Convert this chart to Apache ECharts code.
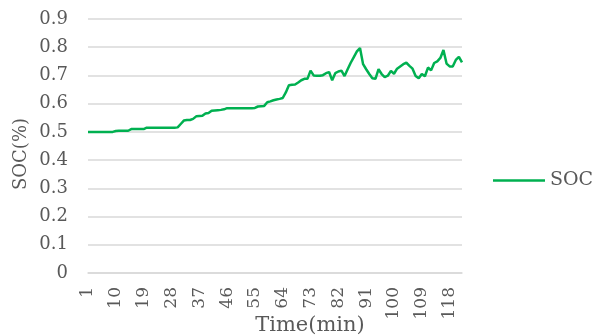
<!DOCTYPE html>
<html>
<head>
<meta charset="utf-8">
<script src="https://cdn.jsdelivr.net/npm/echarts@6/dist/echarts.min.js"></script>
<style>
  html, body { margin: 0; padding: 0; background: #fff; }
  #chart { width: 592px; height: 335px; }
</style>
</head>
<body>
<div id="chart"></div>
<script>
// Time axis: minutes 1..122
const minutes = [];
for (let m = 1; m <= 122; m++) minutes.push(String(m));

// State of charge per minute
const soc = [
  0.500, 0.500, 0.500, 0.500, 0.500, 0.500, 0.500, 0.500, 0.500, 0.503,
  0.504, 0.504, 0.504, 0.504, 0.510, 0.510, 0.510, 0.510, 0.510, 0.515,
  0.515, 0.515, 0.515, 0.515, 0.515, 0.515, 0.515, 0.515, 0.515, 0.516,
  0.528, 0.540, 0.542, 0.542, 0.546, 0.555, 0.556, 0.557, 0.565, 0.567,
  0.575, 0.576, 0.577, 0.578, 0.580, 0.584, 0.584, 0.584, 0.584, 0.584,
  0.584, 0.584, 0.584, 0.584, 0.585, 0.590, 0.591, 0.592, 0.605, 0.608,
  0.612, 0.615, 0.617, 0.620, 0.640, 0.665, 0.667, 0.668, 0.675, 0.683,
  0.688, 0.688, 0.717, 0.700, 0.699, 0.699, 0.701, 0.708, 0.712, 0.683,
  0.708, 0.714, 0.717, 0.698, 0.722, 0.745, 0.765, 0.785, 0.797, 0.740,
  0.722, 0.705, 0.690, 0.688, 0.722, 0.705, 0.694, 0.699, 0.716, 0.706,
  0.724, 0.732, 0.740, 0.745, 0.734, 0.724, 0.698, 0.690, 0.705, 0.697,
  0.728, 0.718, 0.744, 0.750, 0.762, 0.790, 0.742, 0.732, 0.732, 0.755,
  0.766, 0.746
];

const yTicks = [0, 0.1, 0.2, 0.3, 0.4, 0.5, 0.6, 0.7, 0.8, 0.9];

const FONT = '"DejaVu Serif", serif';
const TEXT = '#595959';
const GRID = '#d9d9d9';

const chart = echarts.init(document.getElementById('chart'));
chart.setOption({
  animation: false,
  grid: { left: 88, right: 130, top: 19, bottom: 62 },
  legend: {
    data: ['SOC'],
    left: 488,
    top: 166,
    icon: 'rect',
    itemWidth: 52,
    itemHeight: 2.5,
    itemGap: 6,
    textStyle: { fontFamily: FONT, fontSize: 19, color: TEXT }
  },
  graphic: [
    {
      type: 'text',
      x: 310,
      y: 326,
      style: {
        text: 'Time(min)',
        font: '21px "DejaVu Serif", serif',
        fill: TEXT,
        align: 'center',
        verticalAlign: 'middle'
      }
    },
    {
      type: 'text',
      x: 21,
      y: 154,
      rotation: Math.PI / 2,
      style: {
        text: 'SOC(%)',
        font: '18px "DejaVu Serif", serif',
        fill: TEXT,
        align: 'center',
        verticalAlign: 'middle'
      }
    }
  ],
  xAxis: {
    type: 'category',
    data: minutes,
    boundaryGap: false,
    axisLine: { lineStyle: { color: GRID, width: 1.5 } },
    axisTick: { show: false },
    axisLabel: {
      interval: 8,
      rotate: 90,
      margin: 14,
      fontFamily: FONT,
      fontSize: 17,
      color: TEXT
    },
    splitLine: { show: false }
  },
  yAxis: {
    type: 'value',
    min: 0,
    max: 0.9,
    interval: 0.1,
    axisLine: { show: false },
    axisTick: { show: false },
    axisLabel: {
      margin: 20,
      fontFamily: FONT,
      fontSize: 18,
      color: TEXT,
      formatter: v => {
        const t = yTicks.find(k => Math.abs(k - v) < 1e-9);
        return t === 0 ? '0' : String(Number(t.toFixed(1)));
      }
    },
    splitLine: { lineStyle: { color: GRID, width: 1.5 } }
  },
  series: [{
    name: 'SOC',
    type: 'line',
    data: soc,
    showSymbol: false,
    symbol: 'none',
    lineStyle: { color: '#00b050', width: 2.5 },
    itemStyle: { color: '#00b050' }
  }]
});
</script>
</body>
</html>
